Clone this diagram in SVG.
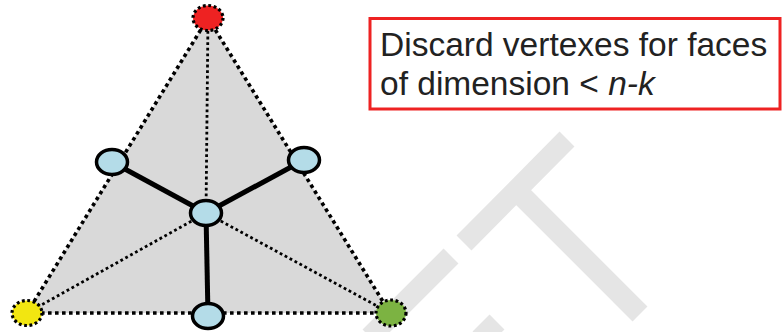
<svg xmlns="http://www.w3.org/2000/svg" width="784" height="332" viewBox="0 0 784 332">
  <style>
    .wm { stroke: #e5e5e5; stroke-width: 21; fill: none; }
    .edge { stroke: #000; stroke-width: 3.6; stroke-dasharray: 3.6 3.4; fill: none; }
    .inner { stroke: #000; stroke-width: 2.8; stroke-dasharray: 2.8 2.8; fill: none; }
    .thick { stroke: #000; stroke-width: 5; fill: none; }
    .blue { fill: #b4dce8; stroke: #000; stroke-width: 3.5; }
    .vert { stroke: #000; stroke-width: 3.2; stroke-dasharray: 2.8 2.6; }
    .label { font-family: "Liberation Sans", Arial, sans-serif; font-size: 33.5px; fill: #222; }
  </style>
  <rect width="784" height="332" fill="#fff"/>
  <g id="watermark">
    <line class="wm" x1="567" y1="139" x2="464" y2="243"/>
    <line class="wm" x1="451" y1="256" x2="370" y2="337"/>
    <line class="wm" x1="497" y1="322" x2="480" y2="339"/>
    <line class="wm" x1="516" y1="190" x2="640" y2="314"/>
  </g>
  <g id="face">
    <polygon points="208,18 27,313 390,313" fill="#d9d9d9"/>
  </g>
  <g id="connectors">
    <line class="edge" x1="208" y1="18" x2="27" y2="313"/>
    <line class="edge" x1="208" y1="18" x2="390" y2="313"/>
    <line class="edge" x1="27" y1="313" x2="390" y2="313"/>
    <line class="inner" x1="206" y1="213" x2="208" y2="18"/>
    <line class="inner" x1="206" y1="213" x2="27" y2="313"/>
    <line class="inner" x1="206" y1="213" x2="390" y2="313"/>
    <line class="thick" x1="206" y1="213" x2="112" y2="162"/>
    <line class="thick" x1="206" y1="213" x2="304" y2="160"/>
    <line class="thick" x1="206" y1="213" x2="208" y2="316"/>
  </g>
  <g id="v-red"><ellipse class="vert" cx="208" cy="18" rx="15" ry="12.5" fill="#ee2222"/></g>
  <g id="v-yellow"><ellipse class="vert" cx="27" cy="313" rx="15" ry="12.5" fill="#f2e611"/></g>
  <g id="v-green"><ellipse class="vert" cx="391" cy="313" rx="15" ry="13" fill="#7cb342"/></g>
  <g id="n-left"><ellipse class="blue" cx="112" cy="162" rx="15.5" ry="12.5"/></g>
  <g id="n-right"><ellipse class="blue" cx="304" cy="160" rx="15.5" ry="12.5"/></g>
  <g id="n-center"><ellipse class="blue" cx="206" cy="213" rx="15.5" ry="12.5"/></g>
  <g id="n-bottom"><ellipse class="blue" cx="208" cy="316" rx="15.5" ry="12.5"/></g>
  <g id="note">
    <rect x="370" y="18.5" width="410" height="90.5" fill="#fff" stroke="#ee2222" stroke-width="3"/>
    <text class="label" x="380" y="56">Discard vertexes for faces</text>
    <text class="label" x="380" y="95">of dimension &lt; <tspan font-style="italic">n-k</tspan></text>
  </g>
</svg>
